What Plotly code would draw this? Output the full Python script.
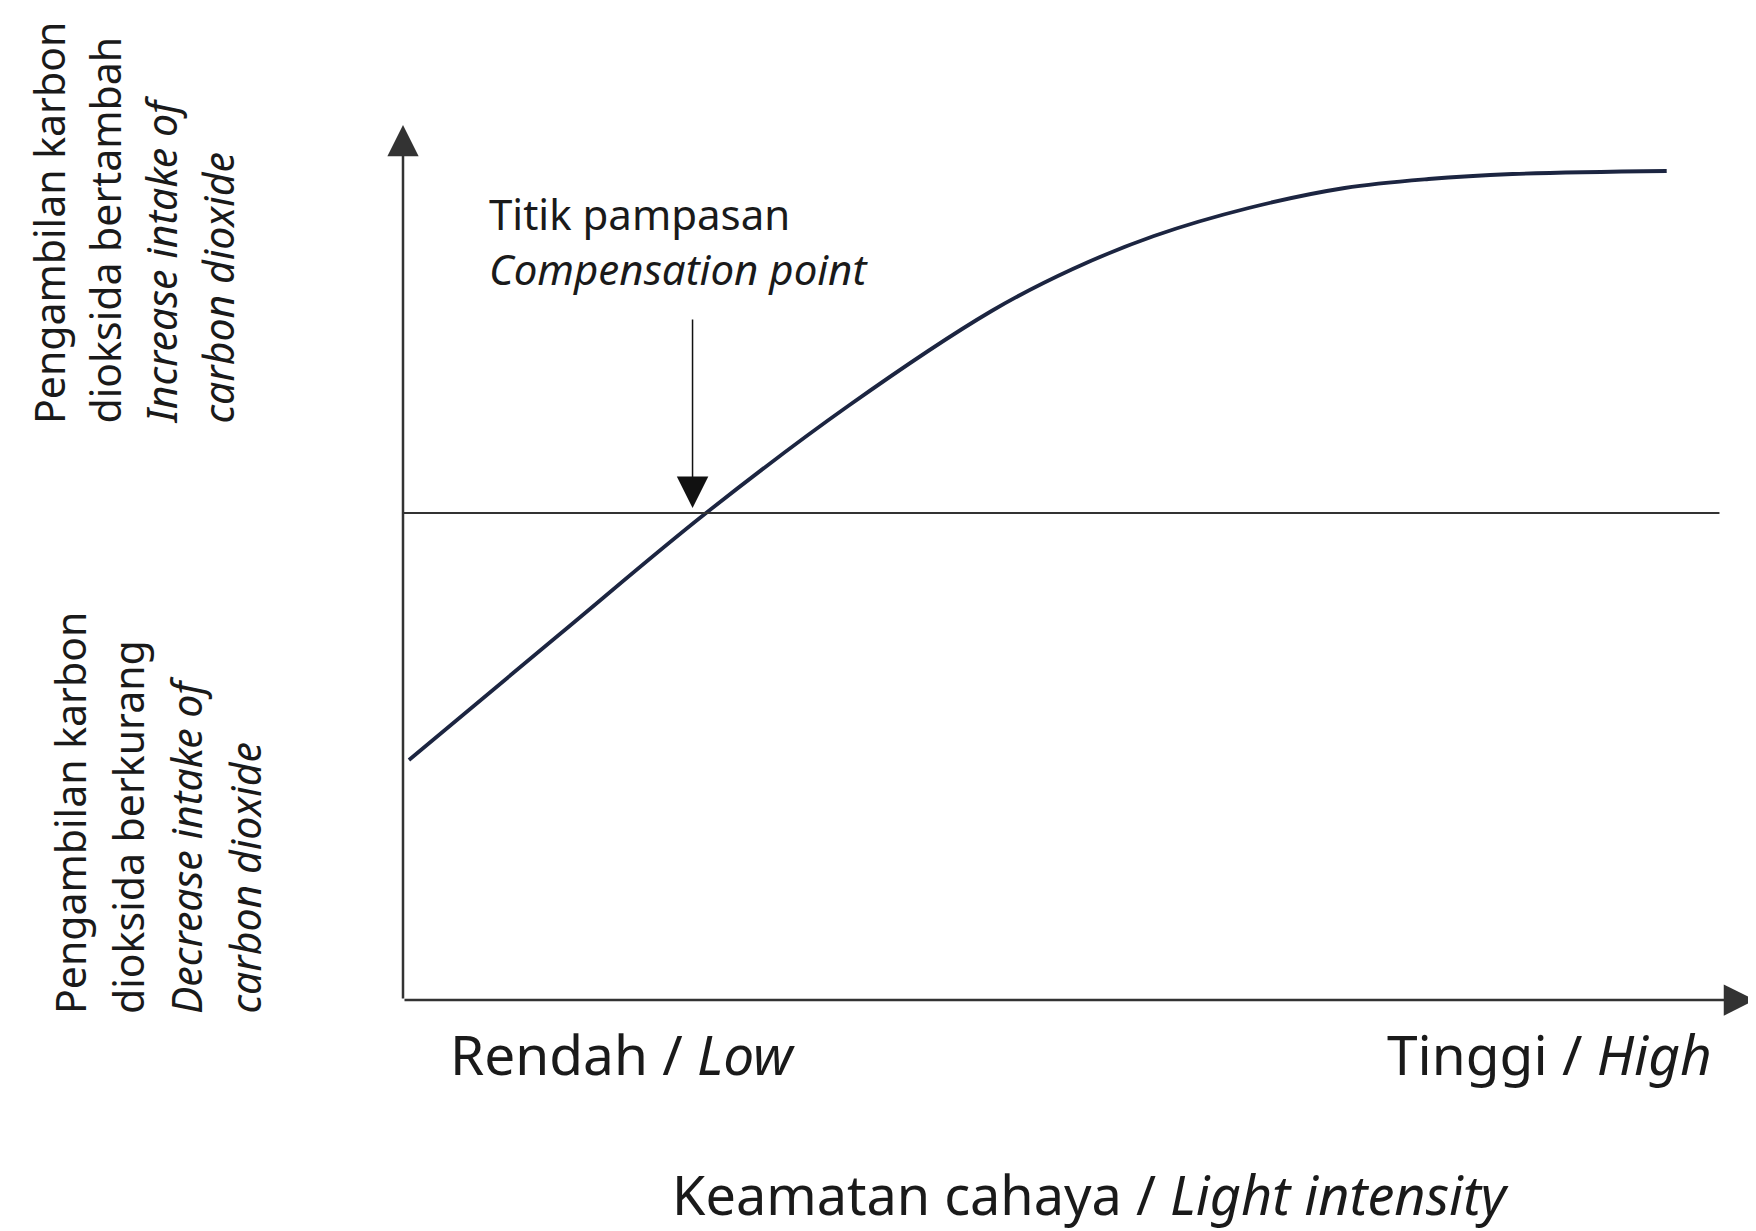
import plotly.graph_objects as go

# ---- data (arbitrary units) ----
light_intensity = [0.44, 11.6, 22.4, 32.9, 43.5, 49.5, 55.5, 62.5, 69.6, 75.8, 82.0, 93.4]
co2_uptake = [-2.47, -1.21, 0.0, 1.07, 2.02, 2.44, 2.77, 3.05, 3.25, 3.34, 3.39, 3.42]
compensation_x = 21.4
zero_line_end = 97.3

x_labels = ["Rendah / <i>Low</i>", "Tinggi / <i>High</i>"]
x_title = "Keamatan cahaya / <i>Light intensity</i>"
y_upper_lines = ["Pengambilan karbon", "dioksida bertambah",
                 "<i>Increase intake of</i>", "<i>carbon dioxide</i>"]
y_lower_lines = ["Pengambilan karbon", "dioksida berkurang",
                 "<i>Decrease intake of</i>", "<i>carbon dioxide</i>"]
comp_label = "Titik pampasan<br><i>Compensation point</i>"

# page body has an 8px margin; figure is sized so it ends at the window edge
OFF = 8
PAGE_W, PAGE_H = 1756, 1231
W, H = PAGE_W - OFF, PAGE_H - OFF
PLOT_L, PLOT_T, PLOT_B = 403, 125, 1000          # page pixel positions of the axes
L, T = PLOT_L - OFF, PLOT_T - OFF
B = H - (PLOT_B - OFF)
R = 0
PW, PH = W - L - R, H - T - B
FONT = "Noto Sans"
TXT = "#1a1a1a"
AX = "#333333"


def px(xp):
    return (xp - PLOT_L) / PW


def py(yp):
    return (PLOT_B - yp) / PH


fig = go.Figure()
fig.add_trace(go.Scatter(
    x=light_intensity, y=co2_uptake, mode="lines",
    line=dict(color="#1c2541", width=3.8, shape="spline", smoothing=1.0),
    hoverinfo="skip",
))

shapes = [
    dict(type="line", xref="x", yref="y", x0=0, x1=zero_line_end, y0=0, y1=0,
         line=dict(color=AX, width=2)),
]

annotations = [
    # y axis arrow
    dict(xref="paper", yref="paper", x=0, y=1, ax=0, ay=PH, axref="pixel", ayref="pixel",
         text="", showarrow=True, arrowhead=2, arrowwidth=2.5, arrowsize=2.5,
         arrowcolor=AX, standoff=0),
    # x axis arrow
    dict(xref="paper", yref="paper", x=px(1774), y=0, ax=-(1774 - PLOT_L), ay=0,
         text="", showarrow=True, arrowhead=2, arrowwidth=2.5, arrowsize=2.5,
         arrowcolor=AX, standoff=0),
    # compensation arrow
    dict(xref="x", yref="y", x=compensation_x, y=0.05, ax=0, ay=-190,
         text="", showarrow=True, arrowhead=2, arrowwidth=1.5, arrowsize=4.2,
         arrowcolor="#111111", standoff=0),
    dict(xref="paper", yref="paper", x=px(487), y=py(241), xanchor="left", yanchor="middle",
         text=comp_label, showarrow=False, align="left",
         font=dict(family=FONT, size=42, color=TXT)),
    dict(xref="paper", yref="paper", x=px(448), y=py(1053), xanchor="left", yanchor="middle",
         text=x_labels[0], showarrow=False, font=dict(family=FONT, size=55, color=TXT)),
    dict(xref="paper", yref="paper", x=px(1714), y=py(1053), xanchor="right", yanchor="middle",
         text=x_labels[1], showarrow=False, font=dict(family=FONT, size=55, color=TXT)),
    dict(xref="paper", yref="paper", x=px(1090), y=py(1194), xanchor="center", yanchor="middle",
         text=x_title, showarrow=False, font=dict(family=FONT, size=54, color=TXT)),
]

upper_cols = [49, 104, 160, 217]
lower_cols = [70, 128, 186, 244]
for txt, cx in zip(y_upper_lines, upper_cols):
    annotations.append(dict(xref="paper", yref="paper", x=px(cx), y=py(426),
                            xanchor="center", yanchor="bottom", text=txt, showarrow=False,
                            textangle=-90, font=dict(family=FONT, size=41, color=TXT)))
for txt, cx in zip(y_lower_lines, lower_cols):
    annotations.append(dict(xref="paper", yref="paper", x=px(cx), y=py(1016),
                            xanchor="center", yanchor="bottom", text=txt, showarrow=False,
                            textangle=-90, font=dict(family=FONT, size=41, color=TXT)))

fig.update_layout(
    width=W, height=H,
    margin=dict(l=L, r=R, t=T, b=B, pad=0),
    paper_bgcolor="white", plot_bgcolor="white",
    showlegend=False,
    xaxis=dict(range=[0, 100], visible=False, fixedrange=True),
    yaxis=dict(range=[-(PLOT_B - 513) / 100, (513 - PLOT_T) / 100], visible=False, fixedrange=True),
    shapes=shapes,
    annotations=annotations,
)

fig.write_html("out.html")
